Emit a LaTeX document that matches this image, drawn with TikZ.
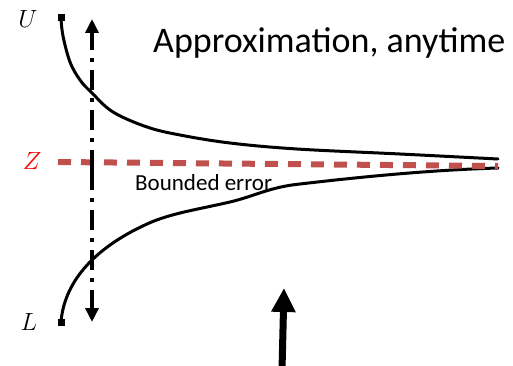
\documentclass[tikz,border=0pt]{standalone}
\usepackage{fontspec}
\newfontfamily\carlito{Carlito}
\usetikzlibrary{arrows.meta}
\definecolor{zred}{HTML}{C0504D}
\tikzset{
  curve/.style={line width=3pt, line cap=round},
  endsq/.style={fill=black, minimum size=7pt, inner sep=0pt, draw=none},
  lbl/.style={font=\fontsize{24}{28}\selectfont, inner sep=0pt},
  zline/.style={zred, line width=6pt, dash pattern=on 13pt off 10pt},
  axis/.style={line width=4pt, dash pattern=on 20pt off 8pt on 4pt off 8pt},
  bigarrow/.style={line width=7pt, -{Triangle[width=23pt,length=24pt]}}
}
\begin{document}
\begin{tikzpicture}[x=1pt,y=-1pt]
\useasboundingbox (0,0) rectangle (513,366);
% labels
\node[lbl] (U) at (28,19) {$U$};
\node[lbl, text=red] (Z) at (32,161) {$Z$};
\node[lbl] (L) at (29,322) {$L$};
% end squares
\node[endsq] (us) at (61,18) {};
\node[endsq] (ls) at (61,322) {};
\coordinate (ue) at (498,159);
\coordinate (le) at (498,168);
% curves
\draw[curve] plot[smooth, tension=0.6] coordinates {(61,18) (63,36) (70,62) (80,80) (92,93) (113,112) (147,127) (180,135) (230,143) (297,149) (400,154) (498,159)};
\draw[curve] (ls.center) .. controls (64,285) and (90,250) .. (147,224)
  .. controls (170,213.5) and (195,210) .. (230,202)
  .. controls (255,196) and (270,187) .. (300,184)
  .. controls (360,177) and (430,170) .. (le);
% red dashed line
\coordinate (zs) at (58,162);
\coordinate (ze) at (498,166);
\draw[zline] (zs) -- (ze);
% vertical dash-dot double arrow
\coordinate (at) at (92,19);
\coordinate (ab) at (92,322);
\coordinate (am) at (92,170);
\draw[axis, -{Triangle[width=13pt,length=14pt]}] (am) -- (at);
\draw[axis, -{Triangle[width=13pt,length=14pt]}] (am) -- (ab);
% big arrow
\coordinate (bs) at (282,370);
\coordinate (bt) at (284,288);
\draw[bigarrow] (bs) -- (bt);
% texts
\node[anchor=base west, inner sep=0pt, font=\carlito\fontsize{36}{40}\selectfont] (title) at (153,53) {Approximation, anytime};
\node[anchor=base west, inner sep=0pt, font=\carlito\fontsize{23}{26}\selectfont] (be) at (135,190) {Bounded error};
\end{tikzpicture}
\end{document}
